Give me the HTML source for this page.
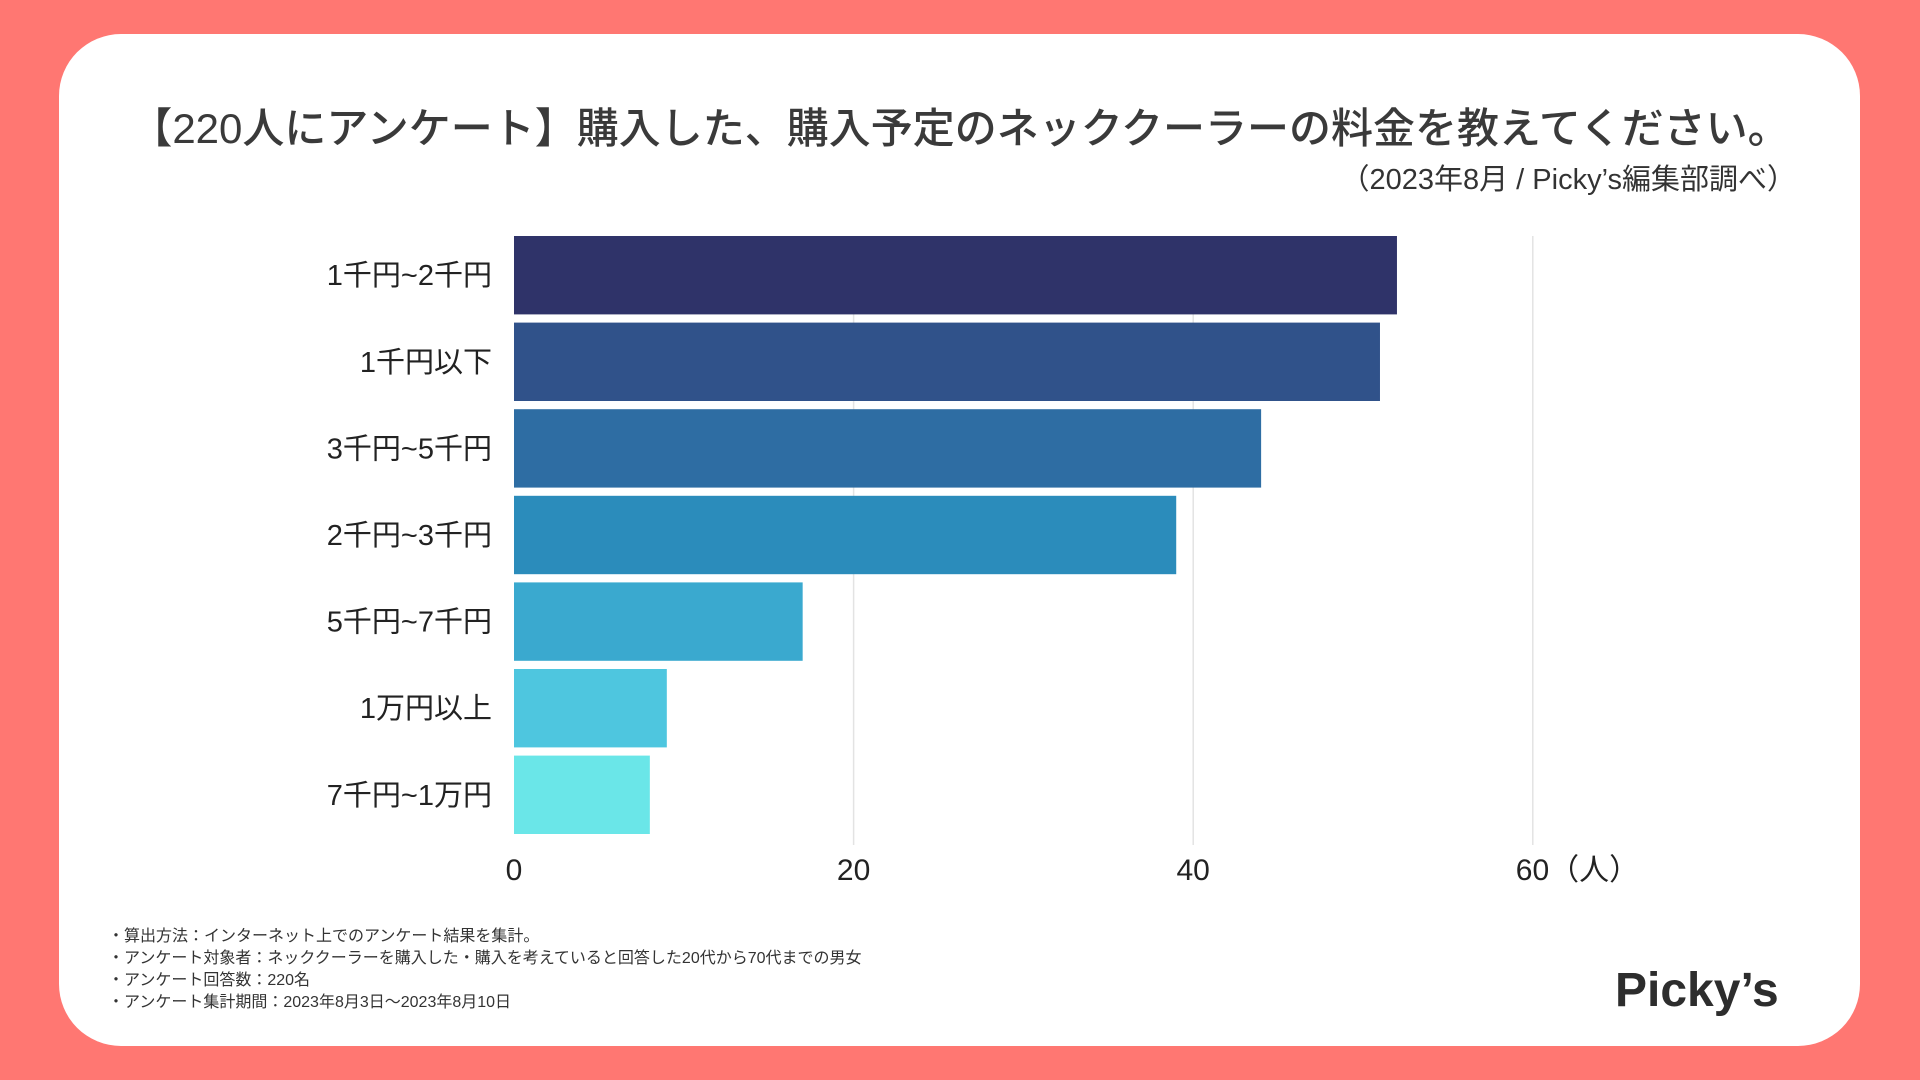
<!DOCTYPE html>
<html><head><meta charset="utf-8"><style>
body{margin:0;width:1920px;height:1080px;background:#ff7772;font-family:"Liberation Sans","Noto Sans CJK JP",sans-serif;overflow:hidden}
#card{position:absolute;left:59px;top:34px;width:1801px;height:1012px;background:#fff;border-radius:62px}
.t{position:absolute;color:#333;white-space:nowrap}
</style></head><body>
<div id="card"></div>
<div class="t" style="left:0;width:1920px;text-align:center;top:95px;font-size:42px;font-weight:500;color:#3a3a3a">【220人にアンケート】購入した、購入予定のネッククーラーの料金を教えてください。</div>
<div class="t" style="right:124px;top:156px;font-size:29px">（2023年8月 / Picky’s編集部調べ）</div>
<svg id="chart" width="1920" height="1080" style="position:absolute;left:0;top:0"></svg>
<div class="t" style="left:108px;top:926px;font-size:16px;line-height:22px;color:#333">・算出方法：インターネット上でのアンケート結果を集計。<br>・アンケート対象者：ネッククーラーを購入した・購入を考えていると回答した20代から70代までの男女<br>・アンケート回答数：220名<br>・アンケート集計期間：2023年8月3日〜2023年8月10日</div>
<div class="t" style="left:1615px;top:963px;font-size:48px;font-weight:bold;color:#2d2d2d">Picky’s</div>
<script>
const categories=["1千円~2千円","1千円以下","3千円~5千円","2千円~3千円","5千円~7千円","1万円以上","7千円~1万円"];
const values=[52,51,44,39,17,9,8];
const colors=["#2f3369","#30528a","#2e6da3","#2b8cbb","#3aa9cf","#4ec6df","#6ae6e8"];
const ticks=[0,20,40,60];
const svg=document.getElementById('chart');
const NS="http://www.w3.org/2000/svg";
const x=v=>514+v*16.98;
const top0=236,pitch=86.6,bh=78.4;
function mk(t,a){const e=document.createElementNS(NS,t);for(const k in a)e.setAttribute(k,a[k]);svg.appendChild(e);return e;}
ticks.forEach(t=>{
 if(t>0){const g=mk('line',{x1:x(t),x2:x(t),y1:236,y2:845,stroke:'#e3e3e3','stroke-width':1.5});
 
 }
 const l=mk('text',{x:x(t),y:880,'text-anchor':'middle','font-size':30,fill:'#222'});
 l.textContent=t+(t===60?'（人）':'');
 if(t===60){l.setAttribute('text-anchor','start');l.setAttribute('x',x(t)-17);}
 
 
});
values.forEach((v,i)=>{
 const y=top0+i*pitch;
 const r=mk('rect',{x:x(0),y:y,width:x(v)-x(0),height:bh,fill:colors[i]});
 
 
 const l=mk('text',{x:492,y:y+bh/2+10,'text-anchor':'end','font-size':29,fill:'#222'});
 l.textContent=categories[i];
 
 
});
</script>
</body></html>
